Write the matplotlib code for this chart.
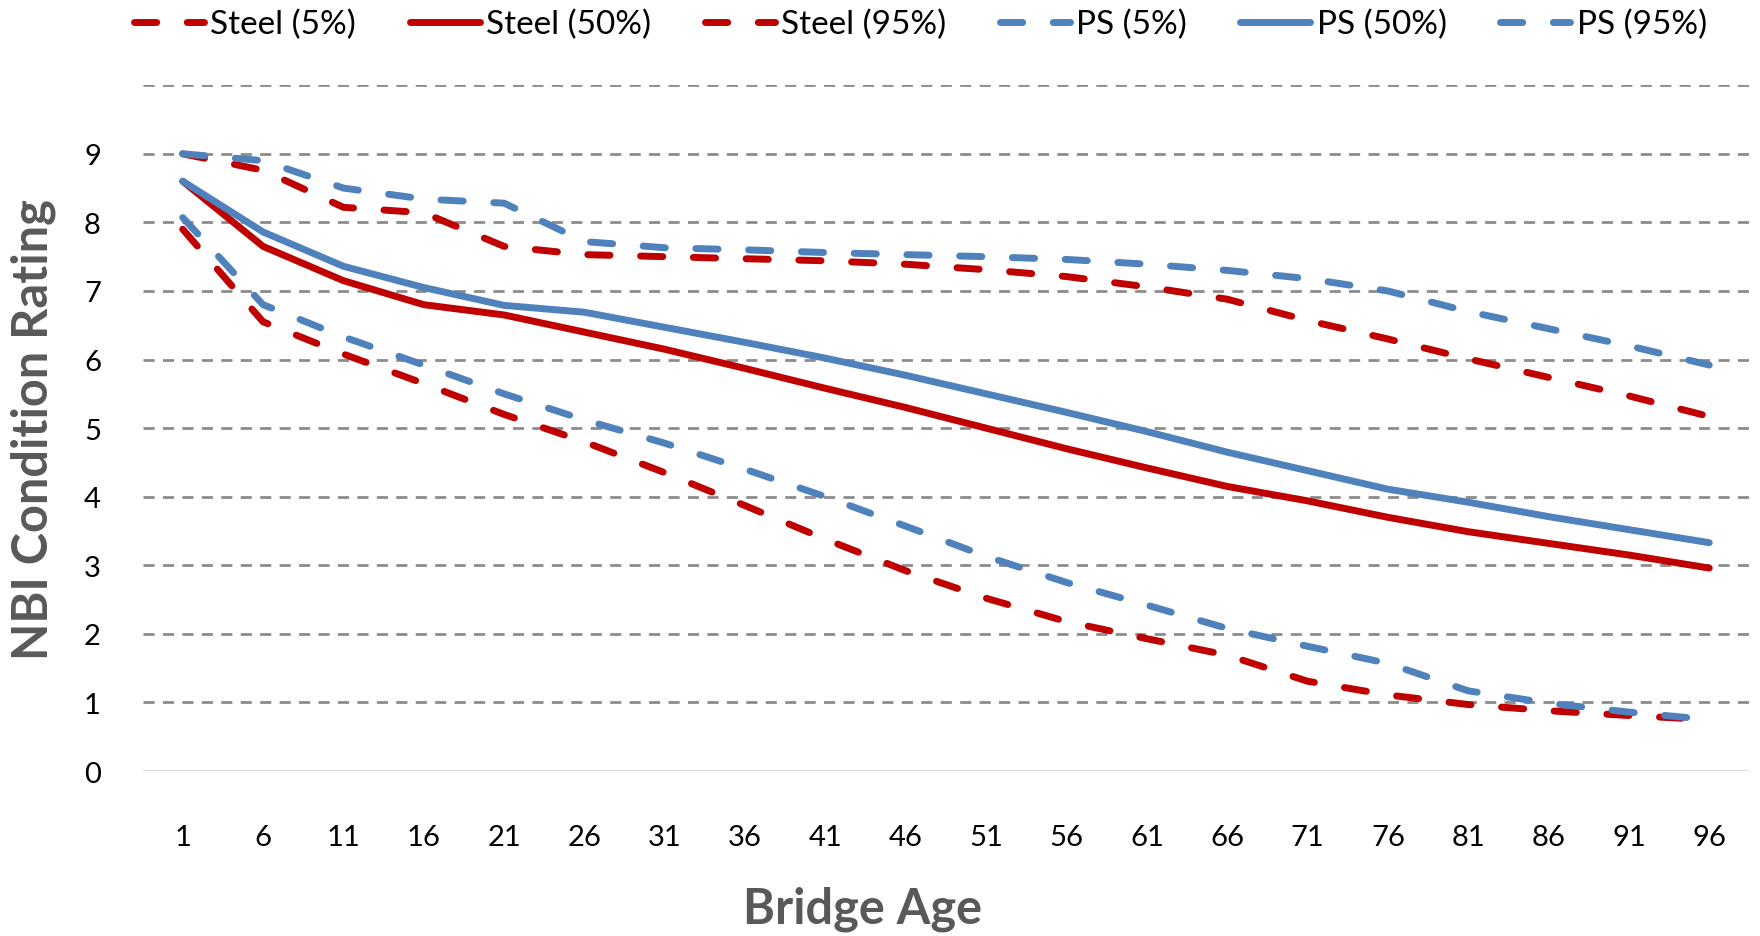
import matplotlib
matplotlib.use("Agg")
import matplotlib.pyplot as plt

plt.rcParams['font.family'] = ['Lato', 'DejaVu Sans']

# bridge age categories
ages = [1, 6, 11, 16, 21, 26, 31, 36, 41, 46, 51, 56, 61, 66, 71, 76, 81, 86, 91, 96]

# NBI condition rating percentiles
steel_5 = [7.9, 6.55, 6.08, 5.65, 5.2, 4.8, 4.35, 3.87, 3.38, 2.92, 2.52, 2.18, 1.93, 1.69, 1.31, 1.11, 0.97, 0.88, 0.81, 0.75]
steel_50 = [8.6, 7.65, 7.15, 6.8, 6.65, 6.4, 6.15, 5.87, 5.58, 5.3, 5.0, 4.7, 4.42, 4.15, 3.94, 3.7, 3.49, 3.32, 3.15, 2.96]
steel_95 = [9.0, 8.76, 8.22, 8.14, 7.65, 7.53, 7.5, 7.47, 7.44, 7.39, 7.31, 7.21, 7.06, 6.88, 6.57, 6.3, 6.01, 5.74, 5.47, 5.17]
ps_5 = [8.07, 6.8, 6.33, 5.92, 5.5, 5.12, 4.78, 4.4, 4.0, 3.57, 3.13, 2.75, 2.42, 2.08, 1.82, 1.57, 1.17, 0.99, 0.86, 0.75]
ps_50 = [8.6, 7.86, 7.36, 7.05, 6.79, 6.69, 6.47, 6.25, 6.02, 5.77, 5.5, 5.23, 4.95, 4.65, 4.38, 4.11, 3.92, 3.71, 3.52, 3.33]
ps_95 = [9.0, 8.9, 8.5, 8.34, 8.28, 7.72, 7.63, 7.6, 7.56, 7.53, 7.5, 7.46, 7.39, 7.3, 7.18, 7.0, 6.7, 6.45, 6.2, 5.92]

RED = '#C00000'
BLUE = '#4F81BD'
DASH = (0, (3.2, 4.4))
LW = 5

fig = plt.figure(figsize=(17.6, 9.37), dpi=100)
ax = fig.add_axes([0.081, 0.176, 0.913, 0.732])

cats = [str(a) for a in ages]
series = [
    (steel_5, RED, DASH, 'Steel (5%)'),
    (steel_50, RED, '-', 'Steel (50%)'),
    (steel_95, RED, DASH, 'Steel (95%)'),
    (ps_5, BLUE, DASH, 'PS (5%)'),
    (ps_50, BLUE, '-', 'PS (50%)'),
    (ps_95, BLUE, DASH, 'PS (95%)'),
]
for vals, col, ls, lab in series:
    ax.plot(cats, vals, color=col, linestyle=ls, lw=LW, label=lab,
            dash_capstyle='round', solid_capstyle='round', solid_joinstyle='round', zorder=3)

ax.set_xlim(-0.5, len(ages) - 0.5)
ax.set_ylim(0, 10)
ax.set_yticks(range(0, 11))
ax.set_yticklabels([str(v) for v in range(0, 10)] + [''])

# dashed horizontal grid, solid light baseline
for y in range(1, 11):
    ax.axhline(y, color='#8C8C8C', lw=2, linestyle=(0, (4, 3)), zorder=1)
ax.axhline(0, color='#D9D9D9', lw=2, zorder=1)

for s in ax.spines.values():
    s.set_visible(False)
ax.tick_params(axis='both', length=0, labelsize=21, colors='black')
ax.tick_params(axis='y', pad=30)
ax.tick_params(axis='x', pad=38)

fig.text(0.019, 0.542, 'NBI Condition Rating', rotation=90, ha='center', va='center',
         fontsize=35, fontweight='bold', color='#595959')
fig.text(0.49, 0.03, 'Bridge Age', ha='center', va='center',
         fontsize=35, fontweight='bold', color='#595959')

fig.legend(loc='center', bbox_to_anchor=(0.523, 0.973), ncol=6, frameon=False,
           fontsize=24, handlelength=2.1, handletextpad=0.2, columnspacing=1.6,
           borderaxespad=0, borderpad=0)

fig.savefig('out.png', dpi=100)
